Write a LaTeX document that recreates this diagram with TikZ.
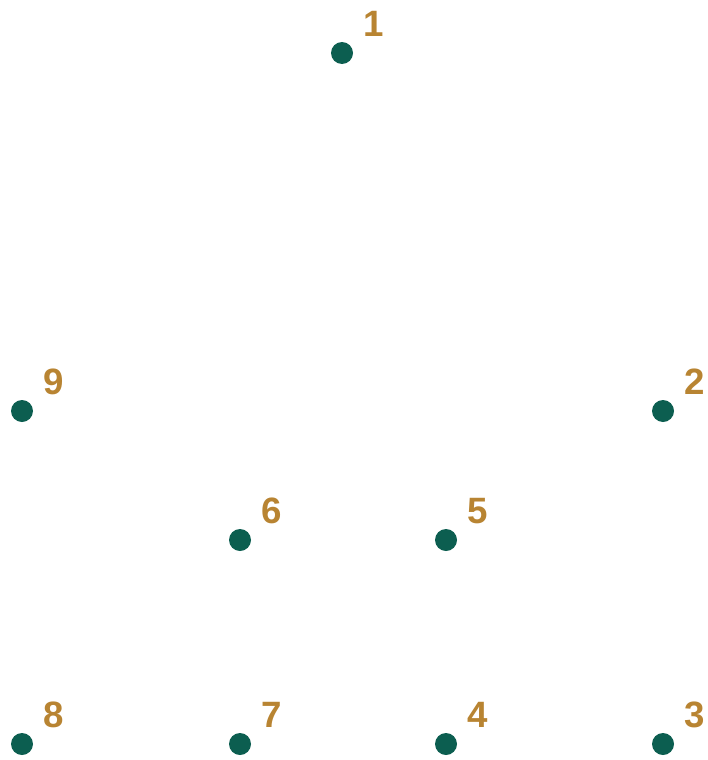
\documentclass[tikz,border=0pt]{standalone}
\usepackage{fontspec}
\setmainfont{Liberation Sans}
\usepackage{tikz}
\usetikzlibrary{positioning,calc}
\definecolor{pontszin}{RGB}{12,94,80}
\definecolor{szamszin}{RGB}{184,132,50}
\tikzset{
  pont/.style={circle,fill=pontszin,inner sep=0pt,minimum size=16.5pt},
  szam/.style={text=szamszin,inner sep=0pt,font=\fontsize{27.5}{30}\selectfont\bfseries},
}

\begin{document}
\begin{tikzpicture}[x=0.75pt,y=-0.75pt]
  \useasboundingbox (0,0) rectangle (707,760);
  \node[pont] (p1) at (342,53) {};
  \node[pont] (p2) at (663,411) {};
  \node[pont] (p3) at (663,744) {};
  \node[pont] (p4) at (446,744) {};
  \node[pont] (p5) at (446,540) {};
  \node[pont] (p6) at (240,540) {};
  \node[pont] (p7) at (240,744) {};
  \node[pont] (p8) at (22,744) {};
  \node[pont] (p9) at (22,411) {};
  \node[szam] (s1) at ($(p1)+(32,-29)$) {1};
  \node[szam] (s2) at ($(p2)+(32,-29)$) {2};
  \node[szam] (s3) at ($(p3)+(32,-29)$) {3};
  \node[szam] (s4) at ($(p4)+(32,-29)$) {4};
  \node[szam] (s5) at ($(p5)+(32,-29)$) {5};
  \node[szam] (s6) at ($(p6)+(32,-29)$) {6};
  \node[szam] (s7) at ($(p7)+(32,-29)$) {7};
  \node[szam] (s8) at ($(p8)+(32,-29)$) {8};
  \node[szam] (s9) at ($(p9)+(32,-29)$) {9};
\end{tikzpicture}
\end{document}
